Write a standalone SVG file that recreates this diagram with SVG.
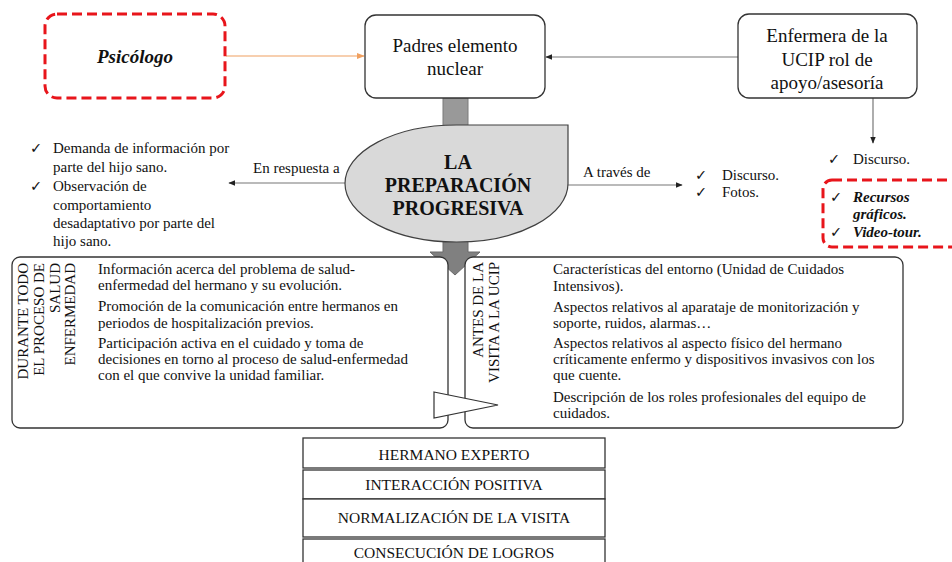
<svg xmlns="http://www.w3.org/2000/svg" width="952" height="562" viewBox="0 0 952 562" font-family="'Liberation Serif', 'DejaVu Serif', serif">
<style>
text{font-family:'Liberation Serif','DejaVu Serif',serif}
.t{fill:#111}
.box{fill:#fff;stroke:#333;stroke-width:1.3}
.red{fill:none;stroke:#e8151b;stroke-width:3;stroke-dasharray:10 5}
.ln{stroke:#777;stroke-width:1.2;fill:none}
text.ck{font-family:'DejaVu Sans',sans-serif;font-size:14.5px;fill:#111}
</style>
<defs>
<marker id="ah" viewBox="0 0 10 10" refX="9" refY="5" markerWidth="7" markerHeight="7" orient="auto" markerUnits="userSpaceOnUse"><path d="M0,1 L10,5 L0,9 Z" fill="#222"/></marker>
<marker id="aho" viewBox="0 0 10 10" refX="9" refY="5" markerWidth="8" markerHeight="8" orient="auto" markerUnits="userSpaceOnUse"><path d="M0,1 L10,5 L0,9 Z" fill="#f0a060"/></marker>
</defs>
<rect width="952" height="562" fill="#fff"/>

<g id="connectors">
<line x1="226" y1="56" x2="364" y2="56" stroke="#f0a060" stroke-width="1.2" marker-end="url(#aho)"/>
<line class="ln" x1="738" y1="57" x2="546" y2="57" marker-end="url(#ah)"/>
<line class="ln" x1="873" y1="98" x2="873" y2="143" marker-end="url(#ah)"/>
<line class="ln" x1="345" y1="183" x2="229" y2="183" marker-end="url(#ah)"/>
<line class="ln" x1="568" y1="185" x2="682" y2="185" marker-end="url(#ah)"/>
<rect x="443" y="98" width="25" height="28" fill="#999" stroke="#7a7a7a" stroke-width="1"/>
<path d="M443,235 L468,235 L468,252 L480,252 L455,275 L430,252 L443,252 Z" fill="#808080" stroke="#6a6a6a" stroke-width="1"/>
</g>

<g id="psicologo">
<rect class="red" x="45" y="14" width="180" height="84" rx="12"/>
<text class="t" x="135" y="63" font-size="19" font-weight="bold" font-style="italic" text-anchor="middle">Psicólogo</text>
</g>

<g id="padres">
<rect class="box" x="365" y="15" width="180" height="83" rx="11"/>
<text class="t" x="455" y="52" font-size="19" text-anchor="middle">Padres elemento</text>
<text class="t" x="455" y="75" font-size="19" text-anchor="middle">nuclear</text>
</g>

<g id="enfermera">
<rect class="box" x="738" y="14" width="179" height="84" rx="11"/>
<text class="t" x="827" y="42" font-size="19" text-anchor="middle">Enfermera de la</text>
<text class="t" x="827" y="66" font-size="19" text-anchor="middle">UCIP rol de</text>
<text class="t" x="827" y="89" font-size="19" text-anchor="middle">apoyo/asesoría</text>
</g>

<g id="preparacion">
<path d="M568,125 L568,183.5 A111.5,58.5 0 1 1 456.5,125 Z" fill="#d9d9d9" stroke="#404040" stroke-width="1.2"/>
<text class="t" x="458" y="169" font-size="20" font-weight="bold" text-anchor="middle">LA</text>
<text class="t" x="458" y="192" font-size="20" font-weight="bold" text-anchor="middle">PREPARACIÓN</text>
<text class="t" x="458" y="215" font-size="20" font-weight="bold" text-anchor="middle">PROGRESIVA</text>
</g>

<g id="label-respuesta">
<text class="t" x="253" y="173" font-size="15">En respuesta a</text>
</g>
<g id="label-traves">
<text class="t" x="583" y="177" font-size="15">A través de</text>
</g>

<g id="lista-izq">
<text class="ck" x="30" y="153">✓</text>
<text class="t" x="53" y="153" font-size="15">Demanda de información por</text>
<text class="t" x="53" y="172" font-size="15">parte del hijo sano.</text>
<text class="ck" x="30" y="191">✓</text>
<text class="t" x="53" y="191" font-size="15">Observación de</text>
<text class="t" x="53" y="210" font-size="15">comportamiento</text>
<text class="t" x="53" y="228" font-size="15">desadaptativo por parte del</text>
<text class="t" x="53" y="246" font-size="15">hijo sano.</text>
</g>

<g id="lista-centro">
<text class="ck" x="695" y="180">✓</text>
<text class="t" x="722" y="180" font-size="15">Discurso.</text>
<text class="ck" x="695" y="197">✓</text>
<text class="t" x="722" y="197" font-size="15">Fotos.</text>
</g>

<g id="lista-der">
<text class="ck" x="828" y="164">✓</text>
<text class="t" x="853" y="164" font-size="15">Discurso.</text>
</g>

<g id="recursos">
<rect class="red" x="823" y="180" width="170" height="67" rx="9"/>
<text class="ck" x="830" y="202">✓</text>
<text class="t" x="853" y="202" font-size="15" font-weight="bold" font-style="italic">Recursos</text>
<text class="t" x="853" y="219" font-size="15" font-weight="bold" font-style="italic">gráficos.</text>
<text class="ck" x="830" y="237">✓</text>
<text class="t" x="853" y="237" font-size="15" font-weight="bold" font-style="italic">Video-tour.</text>
</g>

<g id="durante">
<rect class="box" x="12" y="257" width="436" height="171" rx="8"/>
<text class="t" font-size="15" text-anchor="end" transform="translate(28,263) rotate(-90)">DURANTE TODO</text>
<text class="t" font-size="15" text-anchor="end" transform="translate(44,263) rotate(-90)">EL PROCESO DE</text>
<text class="t" font-size="15" text-anchor="end" transform="translate(60,263) rotate(-90)">SALUD</text>
<text class="t" font-size="15" text-anchor="end" transform="translate(75,263) rotate(-90)">ENFERMEDAD</text>
<text class="t" x="98" y="274" font-size="15">Información acerca del problema de salud-</text>
<text class="t" x="98" y="290" font-size="15">enfermedad del hermano y su evolución.</text>
<text class="t" x="98" y="311" font-size="15">Promoción de la comunicación entre hermanos en</text>
<text class="t" x="98" y="328" font-size="15">periodos de hospitalización previos.</text>
<text class="t" x="98" y="348" font-size="15">Participación activa en el cuidado y toma de</text>
<text class="t" x="98" y="364" font-size="15">decisiones en torno al proceso de salud-enfermedad</text>
<text class="t" x="98" y="380" font-size="15">con el que convive la unidad familiar.</text>
</g>

<g id="antes">
<rect class="box" x="465" y="257" width="438" height="171" rx="8"/>
<text class="t" font-size="15" text-anchor="end" transform="translate(483,262) rotate(-90)">ANTES DE LA</text>
<text class="t" font-size="15" text-anchor="end" transform="translate(499,262) rotate(-90)">VISITA A LA UCIP</text>
<text class="t" x="553" y="274" font-size="15">Características del entorno (Unidad de Cuidados</text>
<text class="t" x="553" y="291" font-size="15">Intensivos).</text>
<text class="t" x="553" y="312" font-size="15">Aspectos relativos al aparataje de monitorización y</text>
<text class="t" x="553" y="328" font-size="15">soporte, ruidos, alarmas…</text>
<text class="t" x="553" y="348" font-size="15">Aspectos relativos al aspecto físico del hermano</text>
<text class="t" x="553" y="364" font-size="15">críticamente enfermo y dispositivos invasivos con los</text>
<text class="t" x="553" y="380" font-size="15">que cuente.</text>
<text class="t" x="553" y="402" font-size="15">Descripción de los roles profesionales del equipo de</text>
<text class="t" x="553" y="418" font-size="15">cuidados.</text>
</g>

<g id="transicion">
<path d="M434,392 L498,405 L434,418 Z" fill="#fff" stroke="#333" stroke-width="1.2"/>
</g>

<g id="resultados">
<rect class="box" x="303" y="438" width="302" height="30"/>
<text class="t" x="454" y="460" font-size="15.5" text-anchor="middle">HERMANO EXPERTO</text>
<rect class="box" x="303" y="470" width="302" height="29"/>
<text class="t" x="454" y="490" font-size="15.5" text-anchor="middle">INTERACCIÓN POSITIVA</text>
<rect class="box" x="303" y="499" width="302" height="38"/>
<text class="t" x="454" y="523" font-size="15.5" text-anchor="middle">NORMALIZACIÓN DE LA VISITA</text>
<rect class="box" x="303" y="539" width="302" height="40"/>
<text class="t" x="454" y="558" font-size="15.5" text-anchor="middle">CONSECUCIÓN DE LOGROS</text>
</g>
</svg>
